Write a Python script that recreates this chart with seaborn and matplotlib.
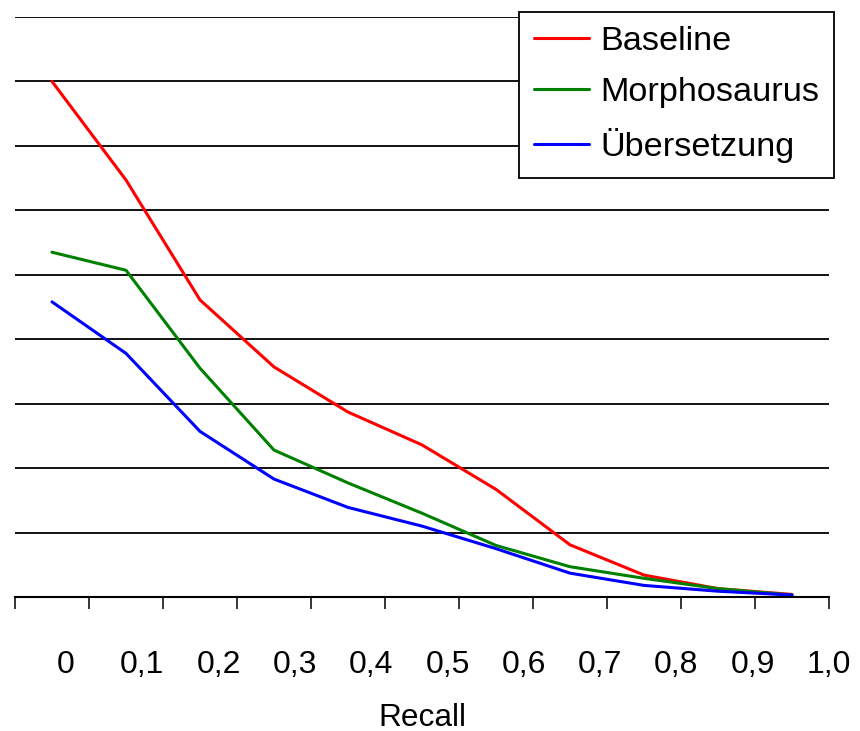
import numpy as np
import pandas as pd
import matplotlib
matplotlib.use('Agg')
import matplotlib.pyplot as plt
import seaborn as sns

# Recall-Stufen (Beschriftung der x-Achse)
recall_labels = ['0', '0,1', '0,2', '0,3', '0,4', '0,5', '0,6', '0,7', '0,8', '0,9', '1,0']

# Precision-Werte je Methode (Rasterabstand = 0.1)
baseline = [0.800, 0.647, 0.461, 0.357, 0.287, 0.236, 0.167, 0.081, 0.034, 0.013, 0.004]
morphosaurus = [0.535, 0.507, 0.355, 0.228, 0.177, 0.130, 0.080, 0.047, 0.029, 0.013, 0.003]
uebersetzung = [0.458, 0.378, 0.257, 0.183, 0.139, 0.110, 0.075, 0.037, 0.018, 0.009, 0.003]

methoden = ['Baseline', 'Morphosaurus', 'Übersetzung']
farben = {'Baseline': '#FF0000', 'Morphosaurus': '#008000', 'Übersetzung': '#0000FF'}

n = len(baseline)
df = pd.DataFrame({
    'stufe': list(range(n)) * 3,
    'precision': baseline + morphosaurus + uebersetzung,
    'methode': ['Baseline'] * n + ['Morphosaurus'] * n + ['Übersetzung'] * n,
})

sns.set_theme(style='white')
plt.rcParams['font.family'] = ['Liberation Sans', 'DejaVu Sans']

fig = plt.figure(figsize=(8.6, 7.31), dpi=100)
ax = fig.add_axes([15 / 860, 1 - 597 / 731, (829 - 15) / 860, (597 - 17) / 731])

sns.lineplot(data=df, x='stufe', y='precision', hue='methode', hue_order=methoden,
             palette=farben, linewidth=2.2, ax=ax)

ax.set_xlim(-0.5, n - 0.5)
ax.set_ylim(0, 0.9)
ax.set_xticks(np.arange(-0.5, n, 1.0))
ax.set_yticks(np.arange(0, 0.95, 0.1))
ax.tick_params(axis='x', bottom=True, direction='out', length=8.6, width=1.1,
               color='black', labelbottom=False)
ax.tick_params(axis='y', left=False, labelleft=False)
ax.yaxis.grid(True, color='black', linewidth=1.3)
ax.xaxis.grid(False)
ax.set_xlabel('')
ax.set_ylabel('')
for s in ['left', 'right', 'top']:
    ax.spines[s].set_visible(False)
ax.spines['bottom'].set_color('black')
ax.spines['bottom'].set_linewidth(1.5)

# Beschriftungen der x-Achse (versetzt wie im Original)
ax2 = ax.twiny()
ax2.set_xlim(-0.668, 10.0)
ax2.set_xticks(range(n))
ax2.set_xticklabels(recall_labels)
ax2.xaxis.set_ticks_position('bottom')
ax2.xaxis.set_label_position('bottom')
ax2.tick_params(axis='x', length=0, pad=38.5, labelsize=23, labelcolor='black')
for s in ax2.spines.values():
    s.set_visible(False)
ax2.set_xlabel('Recall', fontsize=22.8, color='black', labelpad=16)

leg = ax.get_legend()
handles = leg.legend_handles
labels = [t.get_text() for t in leg.get_texts()]
leg.remove()
for h in handles:
    h.set_linewidth(2.2)
legend = ax.legend(handles, labels, loc='upper right', bbox_to_anchor=(834 / 860, 1 - 12 / 731),
                   bbox_transform=fig.transFigure, borderaxespad=0, fontsize=24.7,
                   labelcolor='black', frameon=True, fancybox=False, shadow=False,
                   framealpha=1, edgecolor='black', handlelength=1.6, handletextpad=0.35,
                   labelspacing=0.58, borderpad=0.42)
legend.get_frame().set_linewidth(1.3)
legend.set_zorder(10)

fig.savefig('out.png', dpi=100)
